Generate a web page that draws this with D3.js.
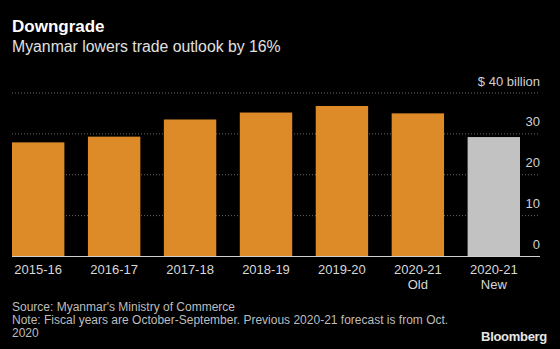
<!DOCTYPE html>
<html>
<head>
<meta charset="utf-8">
<script src="https://cdn.jsdelivr.net/npm/d3@7"></script>
<style>
  body { margin: 0; background: #000; }
  svg { display: block; }
  text { font-family: "Liberation Sans", Arial, sans-serif; }
</style>
</head>
<body>
<svg id="chart" width="560" height="349"></svg>
<script>
// Myanmar trade, $ billion
var years = ["2015-16", "2016-17", "2017-18", "2018-19", "2019-20", "2020-21", "2020-21"];
var subLabels = ["", "", "", "", "", "Old", "New"];
var trade = [27.8, 29.2, 33.4, 35.1, 36.7, 34.9, 29.1];
var isForecast = [false, false, false, false, false, false, true];
var yTicks = [0, 10, 20, 30, 40];

var svg = d3.select("#chart");
var w = 560, h = 349;

svg.append("rect").attr("width", w).attr("height", h).attr("fill", "#000");

// headline
svg.append("text")
    .attr("x", 12).attr("y", 32)
    .attr("fill", "#fff")
    .style("font-size", "17px")
    .style("font-weight", "bold")
    .text("Downgrade");
svg.append("text")
    .attr("x", 12).attr("y", 52)
    .attr("fill", "#e0e0e0")
    .style("font-size", "15.8px")
    .text("Myanmar lowers trade outlook by 16%");

var idx = d3.range(trade.length);
var x = d3.scaleBand()
    .domain(idx)
    .range([12, 520])
    .paddingInner(0.31)
    .paddingOuter(0);

var y = d3.scaleLinear()
    .domain([0, 40])
    .range([256, 92.5]);

// gridlines
svg.selectAll(".grid")
  .data(yTicks.filter(function(d) { return d > 0; }))
  .enter().append("line")
    .attr("x1", 12).attr("x2", 540)
    .attr("y1", function(d) { return y(d) + 0.5; })
    .attr("y2", function(d) { return y(d) + 0.5; })
    .attr("stroke", "#6a6a6a")
    .attr("stroke-width", 1)
    .attr("stroke-dasharray", "1,2");

// bars
svg.selectAll(".bar")
  .data(idx)
  .enter().append("rect")
    .attr("x", function(i) { return x(i); })
    .attr("y", function(i) { return y(trade[i]); })
    .attr("width", x.bandwidth())
    .attr("height", function(i) { return y(0) - y(trade[i]); })
    .attr("fill", function(i) { return isForecast[i] ? "#c2c2c2" : "#dd8a28"; });

// baseline
svg.append("line")
    .attr("x1", 12).attr("x2", 540)
    .attr("y1", y(0) + 0.5).attr("y2", y(0) + 0.5)
    .attr("stroke", "#cfcfcf")
    .attr("stroke-width", 1);

// y tick labels, right side above the gridline
svg.selectAll(".ytick")
  .data(yTicks)
  .enter().append("text")
    .attr("x", 540)
    .attr("y", function(d) { return y(d) - 7; })
    .attr("text-anchor", "end")
    .attr("fill", "#d0d0d0")
    .style("font-size", "13px")
    .text(function(d) { return d === 40 ? "$ 40 billion" : d; });

// x labels
svg.selectAll(".xlab")
  .data(idx)
  .enter().append("text")
    .attr("x", function(i) { return x(i) + x.bandwidth() / 2; })
    .attr("y", 274)
    .attr("text-anchor", "middle")
    .attr("fill", "#d8d8d8")
    .style("font-size", "13px")
    .text(function(i) { return years[i]; });
svg.selectAll(".xsub")
  .data(idx.filter(function(i) { return subLabels[i] !== ""; }))
  .enter().append("text")
    .attr("x", function(i) { return x(i) + x.bandwidth() / 2; })
    .attr("y", 289)
    .attr("text-anchor", "middle")
    .attr("fill", "#d8d8d8")
    .style("font-size", "13px")
    .text(function(i) { return subLabels[i]; });

// footnotes
var notes = [
  "Source: Myanmar's Ministry of Commerce",
  "Note: Fiscal years are October-September. Previous 2020-21 forecast is from Oct.",
  "2020"
];
svg.selectAll(".note")
  .data(notes)
  .enter().append("text")
    .attr("x", 12)
    .attr("y", function(d, i) { return 311 + i * 13; })
    .attr("fill", "#bdbdbd")
    .style("font-size", "12px")
    .text(function(d) { return d; });

svg.append("text")
    .attr("x", 547).attr("y", 341)
    .attr("text-anchor", "end")
    .attr("fill", "#e6e6e6")
    .style("font-size", "13px")
    .style("font-weight", "bold")
    .style("letter-spacing", "-0.3px")
    .text("Bloomberg");
</script>
</body>
</html>
